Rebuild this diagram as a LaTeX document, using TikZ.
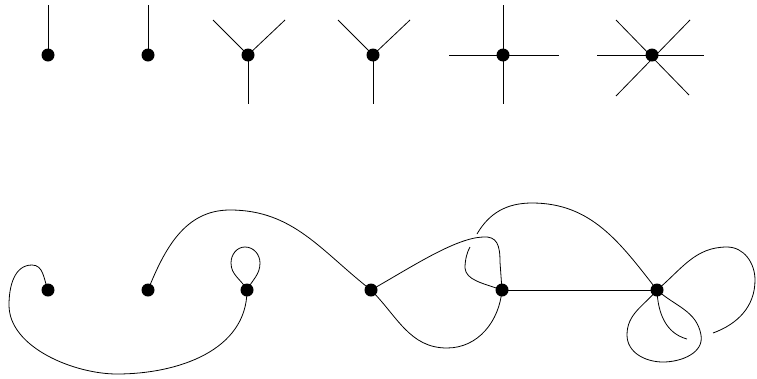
\documentclass[tikz,border=0pt]{standalone}
\begin{document}
\begin{tikzpicture}[x=1pt,y=-1pt,
  vtx/.style={circle,fill=black,draw=none,inner sep=0pt,minimum size=13pt},
  edge/.style={line width=0.8pt,black}]
\useasboundingbox (0,0) rectangle (757,378);
% ---------- top row ----------
\node[vtx] (d1) at (48,55) {};
\node[vtx] (d2) at (148,55) {};
\node[vtx] (d3) at (248,55) {};
\node[vtx] (d4) at (373,55) {};
\node[vtx] (d5) at (503,55) {};
\node[vtx] (d6) at (652,55) {};
\coordinate (t1) at (48,5);
\coordinate (t2) at (148,5);
\coordinate (t3a) at (213,20);
\coordinate (t3b) at (285,20);
\coordinate (t3c) at (248,104);
\coordinate (t4a) at (338,20);
\coordinate (t4b) at (410,20);
\coordinate (t4c) at (373,104);
\coordinate (t5a) at (503,5);
\coordinate (t5b) at (503,104);
\coordinate (t5c) at (449,55);
\coordinate (t5d) at (559,55);
\coordinate (t6a) at (597,55);
\coordinate (t6b) at (704,55);
\coordinate (t6c) at (616,20);
\coordinate (t6d) at (690,20);
\coordinate (t6e) at (616,96);
\coordinate (t6f) at (689,95);
\begin{scope}[on background layer/.try]
\draw[edge] (d1.center) -- (t1);
\draw[edge] (d2.center) -- (t2);
\draw[edge] (d3.center) -- (t3a);
\draw[edge] (d3.center) -- (t3b);
\draw[edge] (d3.center) -- (t3c);
\draw[edge] (d4.center) -- (t4a);
\draw[edge] (d4.center) -- (t4b);
\draw[edge] (d4.center) -- (t4c);
\draw[edge] (t5a) -- (t5b);
\draw[edge] (t5c) -- (t5d);
\draw[edge] (t6a) -- (t6b);
\draw[edge] (t6c) -- (t6f);
\draw[edge] (t6d) -- (t6e);
\end{scope}
% ---------- bottom row ----------
\coordinate (b1) at (48,290);
\coordinate (b2) at (148,290);
\coordinate (b3) at (247,290);
\coordinate (b4) at (371,290);
\coordinate (b5) at (502,290);
\coordinate (b6) at (657,290);
\coordinate (e1) at (470,247);
\coordinate (e2) at (477,234);
\coordinate (e3) at (713,333);
\coordinate (e4) at (687,339);
% b1 -- b3
\draw[edge] (b1) to[out=112,in=0] (32,265) to[out=180,in=90] (9,305)
  to[out=-90,in=180,looseness=0.85] (117,374) to[out=0,in=-90] (b3);
% loop at b3
\draw[edge] (b3) to[out=118,in=270] (231,263) to[out=90,in=180] (245,247)
  to[out=0,in=90] (260,263) to[out=270,in=62] (b3);
% b2 -- b4
\draw[edge] (b2) to[out=68,in=180] (230,210) to[out=0,in=142] (b4);
% b4 -- b5 upper
\draw[edge] (b4) .. controls (410,268) and (455,238) .. (483,237)
  .. controls (497,236) and (500,245) .. (500,262) -- (b5);
% b4 -- b5 lower
\draw[edge] (b4) to[out=-45,in=180] (447,348) to[out=0,in=-95] (b5);
% b5 -- b6 with crossing
\draw[edge] (b5) .. controls (482,283) and (466,280) .. (465,268)
  .. controls (465,260) and (467,252) .. (e1);
\draw[edge] (e2) to[out=60,in=180] (532,203) to[out=0,in=128] (b6);
% b5 -- b6 straight
\draw[edge] (b5) -- (b6);
% right loop at b6 with crossing
\draw[edge] (b6) to[out=40,in=180] (727,247) to[out=0,in=90] (755,280)
  to[out=-90,in=20] (e3);
\draw[edge] (b6) to[out=-88,in=165] (e4);
% lower loop at b6
\draw[edge] (b6) to[out=-130,in=90] (627,335) to[out=-90,in=180] (663,362)
  to[out=0,in=-80] (701,335) to[out=100,in=-42] (b6);
% vertices
\node[vtx] (v1) at (b1) {};
\node[vtx] (v2) at (b2) {};
\node[vtx] (v3) at (b3) {};
\node[vtx] (v4) at (b4) {};
\node[vtx] (v5) at (b5) {};
\node[vtx] (v6) at (b6) {};
\end{tikzpicture}
\end{document}
